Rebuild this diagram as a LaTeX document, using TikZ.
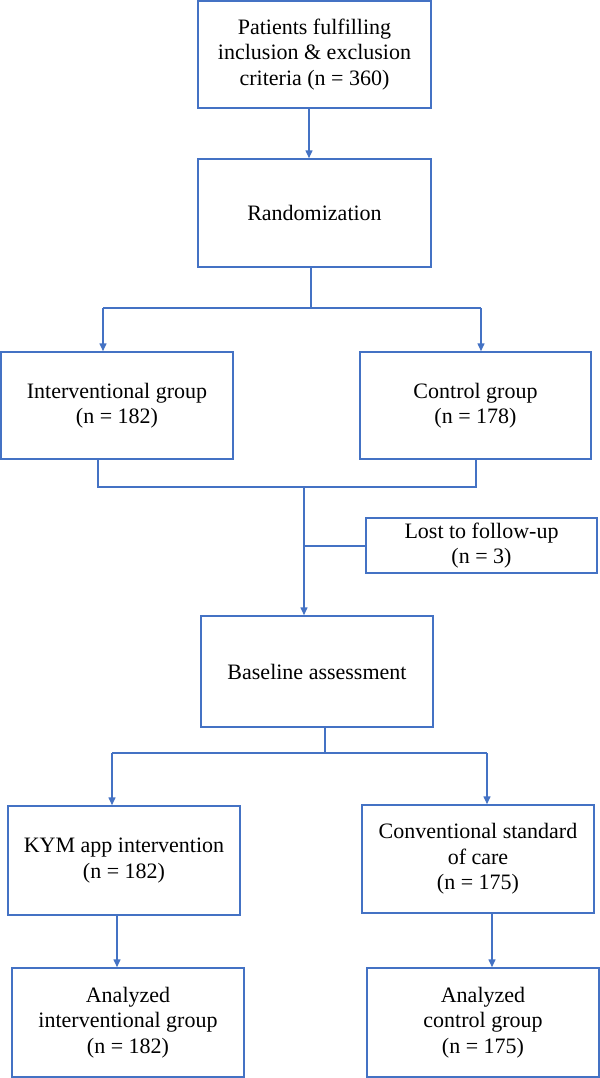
\documentclass[tikz,border=0pt]{standalone}
\usepackage{fontspec}
\setmainfont{Liberation Serif}
\usetikzlibrary{arrows.meta}
\definecolor{flowblue}{HTML}{4472C4}
\begin{document}
\begin{tikzpicture}[x=1bp,y=-1bp,
  box/.style={draw=flowblue,line width=1.5bp,fill=white,inner sep=0pt,align=center,
    font=\fontsize{22bp}{25.5bp}\selectfont,text=black},
  conn/.style={draw=flowblue,line width=1.5bp},
  arr/.style={conn,-{Triangle[length=8bp,width=7bp]}}]
\useasboundingbox (0,0) rectangle (600,1078);
% boxes
\node[box,minimum width=233bp,minimum height=107bp] (top) at (314.5,54.5)
  {Patients fulfilling\\inclusion \& exclusion\\criteria (n = 360)};
\node[box,minimum width=233bp,minimum height=108bp] (rand) at (314.5,213) {Randomization};
\node[box,minimum width=232bp,minimum height=107bp] (int) at (117,405.5)
  {Interventional group\\(n = 182)};
\node[box,minimum width=231bp,minimum height=107bp] (ctrl) at (475.5,405.5)
  {Control group\\(n = 178)};
\node[box,minimum width=231bp,minimum height=55bp] (lost) at (481.5,545.5)
  {Lost to follow-up\\(n = 3)};
\node[box,minimum width=232bp,minimum height=111bp] (base) at (317,671.5)
  {Baseline assessment};
\node[box,minimum width=232bp,minimum height=109bp] (kym) at (124,860.5)
  {KYM app intervention\\(n = 182)};
\node[box,minimum width=232bp,minimum height=108bp] (conv) at (478,859)
  {Conventional standard\\of care\\(n = 175)};
\node[box,minimum width=232bp,minimum height=109bp] (aint) at (128,1022.5)
  {Analyzed\\interventional group\\(n = 182)};
\node[box,minimum width=232bp,minimum height=109bp] (actrl) at (483,1022.5)
  {Analyzed\\control group\\(n = 175)};
% junction points
\coordinate (t1) at (309,0);
\coordinate (s1) at (311,308);
\coordinate (s1l) at (103,308);
\coordinate (s1r) at (481,308);
\coordinate (m1) at (304,487);
\coordinate (m1l) at (98,487);
\coordinate (m1r) at (476,487);
\coordinate (lb) at (304,546);
\coordinate (s2) at (325,753);
\coordinate (s2l) at (112,753);
\coordinate (s2r) at (487,753);
\coordinate (v1) at (117,0);
\coordinate (v2) at (492,0);
% connectors
\draw[arr] (top.south -| t1) -- (rand.north -| t1);
\draw[conn] (rand.south -| s1) -- (s1);
\draw[conn] (s1l) -- (s1r);
\draw[arr] (s1l) -- (int.north -| s1l);
\draw[arr] (s1r) -- (ctrl.north -| s1r);
\draw[conn] (int.south -| m1l) -- (m1l) -- (m1r) -- (ctrl.south -| m1r);
\draw[arr] (m1) -- (base.north -| m1);
\draw[conn] (lb) -- (lost.west |- lb);
\draw[conn] (base.south -| s2) -- (s2);
\draw[conn] (s2l) -- (s2r);
\draw[arr] (s2l) -- (kym.north -| s2l);
\draw[arr] (s2r) -- (conv.north -| s2r);
\draw[arr] (kym.south -| v1) -- (aint.north -| v1);
\draw[arr] (conv.south -| v2) -- (actrl.north -| v2);
\end{tikzpicture}
\end{document}
